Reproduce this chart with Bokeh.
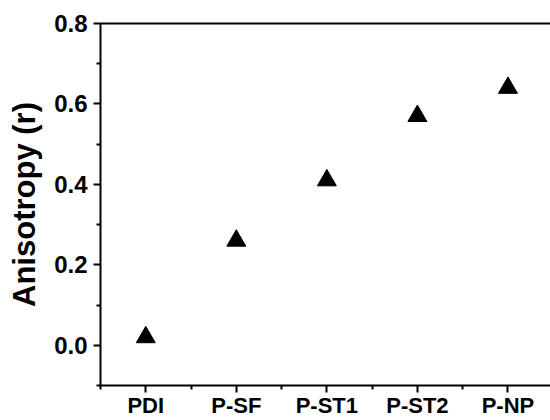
from bokeh.plotting import figure
from bokeh.models import FixedTicker, Range1d, LinearAxis
from bokeh.embed import file_html
from bokeh.resources import INLINE

categories = ["PDI", "P-SF", "P-ST1", "P-ST2", "P-NP"]
anisotropy = [0.02, 0.26, 0.41, 0.57, 0.64]
y_ticks = [0.0, 0.2, 0.4, 0.6, 0.8]
y_tick_labels = ["0.0", "0.2", "0.4", "0.6", "0.8"]

xpos = list(range(1, len(categories) + 1))

p = figure(width=550, height=420, output_backend="svg", toolbar_location=None,
           x_range=Range1d(0.5, 5.47), y_range=Range1d(-0.1, 0.8),
           min_border_left=100, min_border_right=0, min_border_top=23, min_border_bottom=33)
p.outline_line_color = None
p.xgrid.visible = False
p.ygrid.visible = False

p.scatter(xpos, anisotropy, marker="triangle", size=19, color="black")

bx = p.below[0]
ly = p.left[0]

top_axis = LinearAxis(ticker=FixedTicker(ticks=[]), axis_line_width=2, axis_line_color="black",
                      major_tick_line_color=None, minor_tick_line_color=None,
                      major_label_text_font_size="0px")
p.add_layout(top_axis, "above")

FONT = "Liberation Sans"
for ax in (bx, ly):
    ax.axis_line_width = 2
    ax.axis_line_color = "black"
    ax.major_tick_line_width = 2
    ax.minor_tick_line_width = 2
    ax.major_tick_in = 0
    ax.major_tick_out = 7
    ax.minor_tick_in = 0
    ax.minor_tick_out = 4
    ax.major_label_text_font = FONT
    ax.major_label_text_font_style = "bold"
    ax.major_label_text_color = "black"

bx.ticker = FixedTicker(ticks=xpos, minor_ticks=[0.5, 1.5, 2.5, 3.5, 4.5])
bx.major_label_overrides = {x: c for x, c in zip(xpos, categories)}
bx.major_label_text_font_size = "22px"
bx.major_label_standoff = 0

ly.ticker = FixedTicker(ticks=y_ticks, minor_ticks=[-0.1, 0.1, 0.3, 0.5, 0.7])
ly.major_label_overrides = {t: l for t, l in zip(y_ticks, y_tick_labels)}
ly.major_label_text_font_size = "24px"
ly.major_label_standoff = 6
ly.axis_label = "Anisotropy (r)"
ly.axis_label_text_font = FONT
ly.axis_label_text_font_style = "bold"
ly.axis_label_text_font_size = "31px"
ly.axis_label_text_color = "black"
ly.axis_label_standoff = 9

open("out.html", "w").write(file_html(p, INLINE))
